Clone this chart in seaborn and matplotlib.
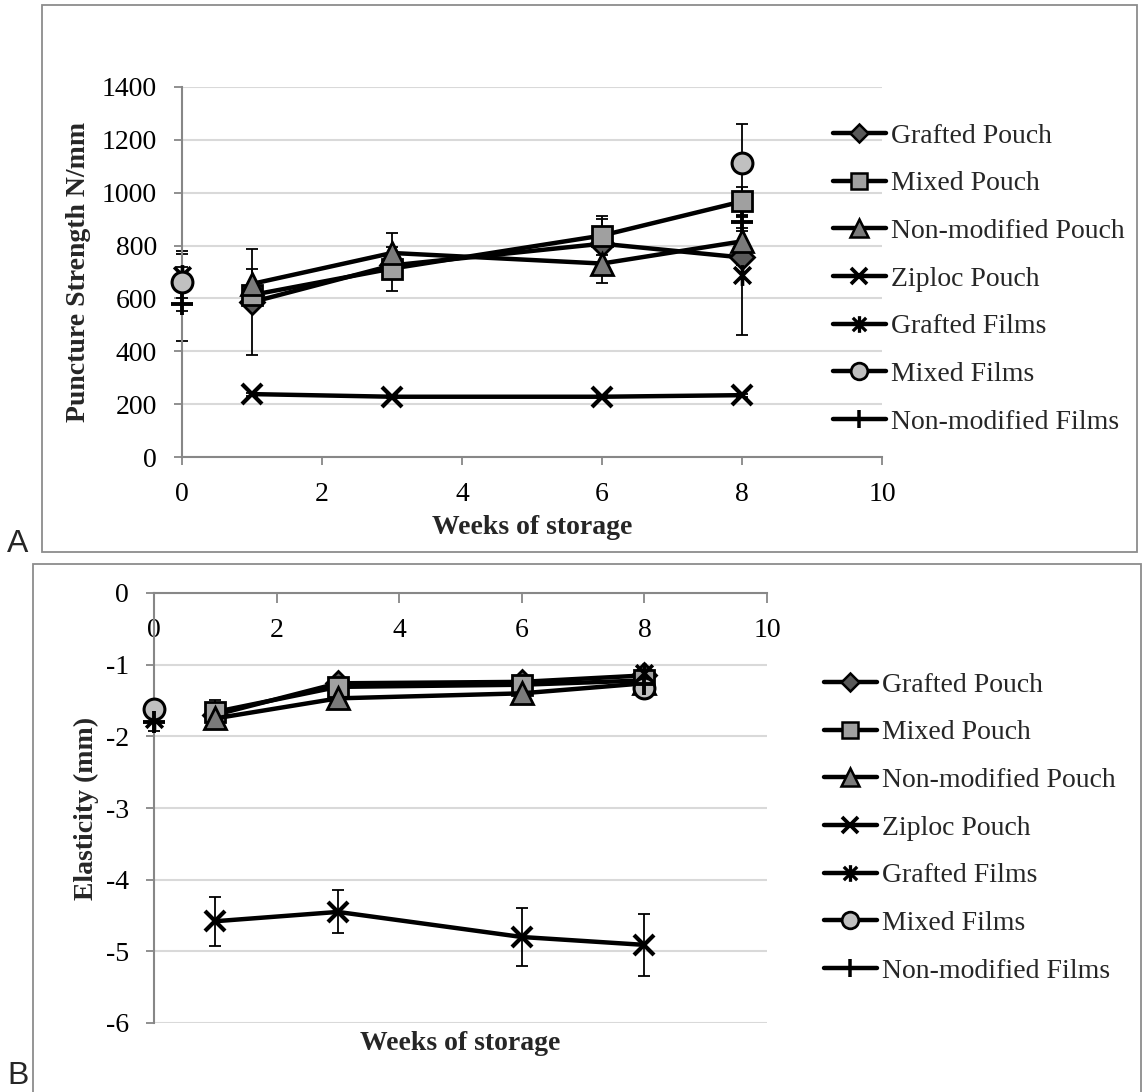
import numpy as np
import pandas as pd
import matplotlib
matplotlib.use("Agg")
import matplotlib.pyplot as plt
import seaborn as sns
from matplotlib.lines import Line2D
from matplotlib.path import Path
from matplotlib.patches import Rectangle

nan = np.nan

# ---------------- data ----------------
weeks = [0, 1, 3, 6, 8]
series_names = ["Grafted Pouch", "Mixed Pouch", "Non-modified Pouch", "Ziploc Pouch",
                "Grafted Films", "Mixed Films", "Non-modified Films"]

# Panel A: puncture strength (N/mm)
punct_grafted_pouch = [nan, 586, 725, 807, 755]
punct_mixed_pouch = [nan, 613, 713, 838, 967]
punct_nonmod_pouch = [nan, 655, 772, 732, 816]
punct_ziploc_pouch = [nan, 238, 228, 228, 234]
punct_grafted_films = [690, nan, nan, nan, 687]
punct_mixed_films = [662, nan, nan, nan, 1114]
punct_nonmod_films = [580, nan, nan, nan, 888]

punct_grafted_pouch_err = [nan, 200, 25, 95, 30]
punct_mixed_pouch_err = [nan, 30, 83, 75, 55]
punct_nonmod_pouch_err = [nan, 58, 77, 75, 40]
punct_ziploc_pouch_err = [nan, 6, 6, 6, 6]
punct_grafted_films_err = [90, nan, nan, nan, 227]
punct_mixed_films_err = [108, nan, nan, nan, 145]
punct_nonmod_films_err = [140, nan, nan, nan, 20]

# Panel B: elasticity (mm)
elast_grafted_pouch = [nan, -1.70, -1.26, -1.24, -1.15]
elast_mixed_pouch = [nan, -1.66, -1.31, -1.28, -1.22]
elast_nonmod_pouch = [nan, -1.75, -1.47, -1.40, -1.26]
elast_ziploc_pouch = [nan, -4.58, -4.45, -4.80, -4.91]
elast_grafted_films = [-1.76, nan, nan, nan, -1.12]
elast_mixed_films = [-1.62, nan, nan, nan, -1.32]
elast_nonmod_films = [-1.80, nan, nan, nan, -1.27]

elast_grafted_pouch_err = [nan, 0.05, 0.05, 0.05, 0.05]
elast_mixed_pouch_err = [nan, 0.17, 0.05, 0.05, 0.05]
elast_nonmod_pouch_err = [nan, 0.05, 0.05, 0.05, 0.05]
elast_ziploc_pouch_err = [nan, 0.34, 0.30, 0.41, 0.43]
elast_grafted_films_err = [0.05, nan, nan, nan, 0.05]
elast_mixed_films_err = [0.05, nan, nan, nan, 0.05]
elast_nonmod_films_err = [0.13, nan, nan, nan, 0.05]

x_ticks = [0, 2, 4, 6, 8, 10]
punct_ticks = [0, 200, 400, 600, 800, 1000, 1200, 1400]
elast_ticks = [0, -1, -2, -3, -4, -5, -6]

punct_values = [punct_grafted_pouch, punct_mixed_pouch, punct_nonmod_pouch, punct_ziploc_pouch,
                punct_grafted_films, punct_mixed_films, punct_nonmod_films]
punct_errors = [punct_grafted_pouch_err, punct_mixed_pouch_err, punct_nonmod_pouch_err,
                punct_ziploc_pouch_err, punct_grafted_films_err, punct_mixed_films_err,
                punct_nonmod_films_err]
elast_values = [elast_grafted_pouch, elast_mixed_pouch, elast_nonmod_pouch, elast_ziploc_pouch,
                elast_grafted_films, elast_mixed_films, elast_nonmod_films]
elast_errors = [elast_grafted_pouch_err, elast_mixed_pouch_err, elast_nonmod_pouch_err,
                elast_ziploc_pouch_err, elast_grafted_films_err, elast_mixed_films_err,
                elast_nonmod_films_err]

# ---------------- style ----------------
sns.set_theme(style="white")
plt.rcParams["font.family"] = ["Liberation Serif", "DejaVu Serif"]
plt.rcParams["axes.unicode_minus"] = False

asterisk = Path([(-1, -1), (1, 1), (-1, 1), (1, -1), (0, -1.25), (0, 1.25)],
                [Path.MOVETO, Path.LINETO, Path.MOVETO, Path.LINETO, Path.MOVETO, Path.LINETO])

styles = [
    dict(marker="D", ms=12, mfc="#595959", mew=2.0, line=True),
    dict(marker="s", ms=15, mfc="#A0A0A0", mew=2.0, line=True),
    dict(marker="^", ms=16, mfc="#7A7A7A", mew=2.0, line=True),
    dict(marker="x", ms=15, mfc="none", mew=3.0, line=True),
    dict(marker=asterisk, ms=15, mfc="none", mew=2.6, line=False),
    dict(marker="o", ms=15, mfc="#C0C0C0", mew=2.2, line=False),
    dict(marker="+", ms=16, mfc="none", mew=2.8, line=False),
]

GRID = "#D9D9D9"
AXC = "#878787"
FS = 20

fig = plt.figure(figsize=(11.43, 10.92), dpi=100)

# panel borders
fig.patches.append(Rectangle((42 / 1143, 1 - 552 / 1092), (1137 - 42) / 1143, (552 - 5) / 1092,
                             transform=fig.transFigure, fill=False, ec="#8C8C8C", lw=1.3))
fig.patches.append(Rectangle((33 / 1143, 1 - 1100 / 1092), (1141 - 33) / 1143, (1100 - 564) / 1092,
                             transform=fig.transFigure, fill=False, ec="#8C8C8C", lw=1.3))

axA = fig.add_axes([182 / 1143, 1 - 457 / 1092, 700 / 1143, 370 / 1092])
axB = fig.add_axes([154 / 1143, 1 - 1023 / 1092, 613 / 1143, 430 / 1092])


def draw(ax, values, errors):
    for name, y, e, st in zip(series_names, values, errors, styles):
        ax.errorbar(weeks, y, yerr=e, fmt="none", ecolor="black", elinewidth=1.3,
                    capsize=4.5, capthick=1.3, zorder=2, clip_on=False)
        sns.lineplot(x=weeks, y=y, ax=ax, color="black", errorbar=None, legend=False,
                     linewidth=3.2 if st["line"] else 0, linestyle="-" if st["line"] else "",
                     marker=st["marker"], markersize=st["ms"], markerfacecolor=st["mfc"],
                     markeredgecolor="black", markeredgewidth=st["mew"],
                     zorder=3, clip_on=False)


draw(axA, punct_values, punct_errors)
draw(axB, elast_values, elast_errors)

# ---- Panel A axes ----
axA.set_xlim(0, 10)
axA.set_ylim(0, 1400)
axA.set_xticks(x_ticks)
axA.set_yticks(punct_ticks)
axA.yaxis.grid(True, color=GRID, lw=1.5)
axA.xaxis.grid(False)
axA.set_axisbelow(True)
for s in ["top", "right"]:
    axA.spines[s].set_visible(False)
for s in ["left", "bottom"]:
    axA.spines[s].set_color(AXC)
    axA.spines[s].set_linewidth(1.5)
axA.tick_params(axis="both", direction="out", length=6, width=1.3, color=AXC,
                labelsize=FS, labelcolor="black")
axA.tick_params(axis="y", pad=12, left=True)
axA.tick_params(axis="x", pad=12, bottom=True)
axA.set_xlabel("Weeks of storage", fontsize=FS, fontweight="bold")
axA.set_ylabel("Puncture Strength N/mm", fontsize=FS, fontweight="bold")
axA.xaxis.set_label_coords(0.5, -0.158)
axA.yaxis.set_label_coords(-0.13, 0.5)

# ---- Panel B axes ----
axB.set_xlim(0, 10)
axB.set_ylim(-6, 0)
axB.set_xticks(x_ticks)
axB.set_yticks(elast_ticks)
axB.yaxis.grid(True, color=GRID, lw=1.5)
axB.xaxis.grid(False)
axB.set_axisbelow(True)
for s in ["bottom", "right"]:
    axB.spines[s].set_visible(False)
for s in ["left", "top"]:
    axB.spines[s].set_color(AXC)
    axB.spines[s].set_linewidth(1.5)
axB.xaxis.set_ticks_position("top")
axB.tick_params(axis="x", direction="in", length=7, width=1.3, color=AXC, labelsize=FS,
                labelcolor="black", top=True, bottom=False, labeltop=True,
                labelbottom=False, pad=-36)
axB.tick_params(axis="y", direction="out", length=6, width=1.3, color=AXC, labelsize=FS,
                labelcolor="black", left=True, pad=12)
axB.set_xlabel("Weeks of storage", fontsize=FS, fontweight="bold")
axB.xaxis.set_label_position("bottom")
axB.set_ylabel("Elasticity (mm)", fontsize=FS, fontweight="bold")
axB.xaxis.set_label_coords(0.5, -0.018)
axB.xaxis.label.set_va("top")
axB.yaxis.set_label_coords(-0.09, 0.5)

# ---- legends ----
handles = [Line2D([], [], color="black", lw=3.2, marker=st["marker"], markersize=st["ms"] * 0.8,
                  markerfacecolor=st["mfc"], markeredgecolor="black",
                  markeredgewidth=st["mew"] * 0.9) for st in styles]
for ax, (lx, ly) in [(axA, (819 / 1143, 1 - 279 / 1092)), (axB, (810 / 1143, 1 - 828 / 1092))]:
    ax.legend(handles, series_names, loc="center left", bbox_to_anchor=(lx, ly),
              bbox_transform=fig.transFigure, frameon=False, borderpad=0,
              handlelength=1.9, handletextpad=0.2, labelspacing=0.8, fontsize=FS)

# panel letters
fig.text(7 / 1143, 1 - 552 / 1092, "A", fontsize=23, family="Liberation Sans", va="baseline")
fig.text(7 / 1143, 1 - 1091 / 1092, "B", fontsize=23, family="Liberation Sans", va="bottom")

fig.savefig("out.png", dpi=100)
